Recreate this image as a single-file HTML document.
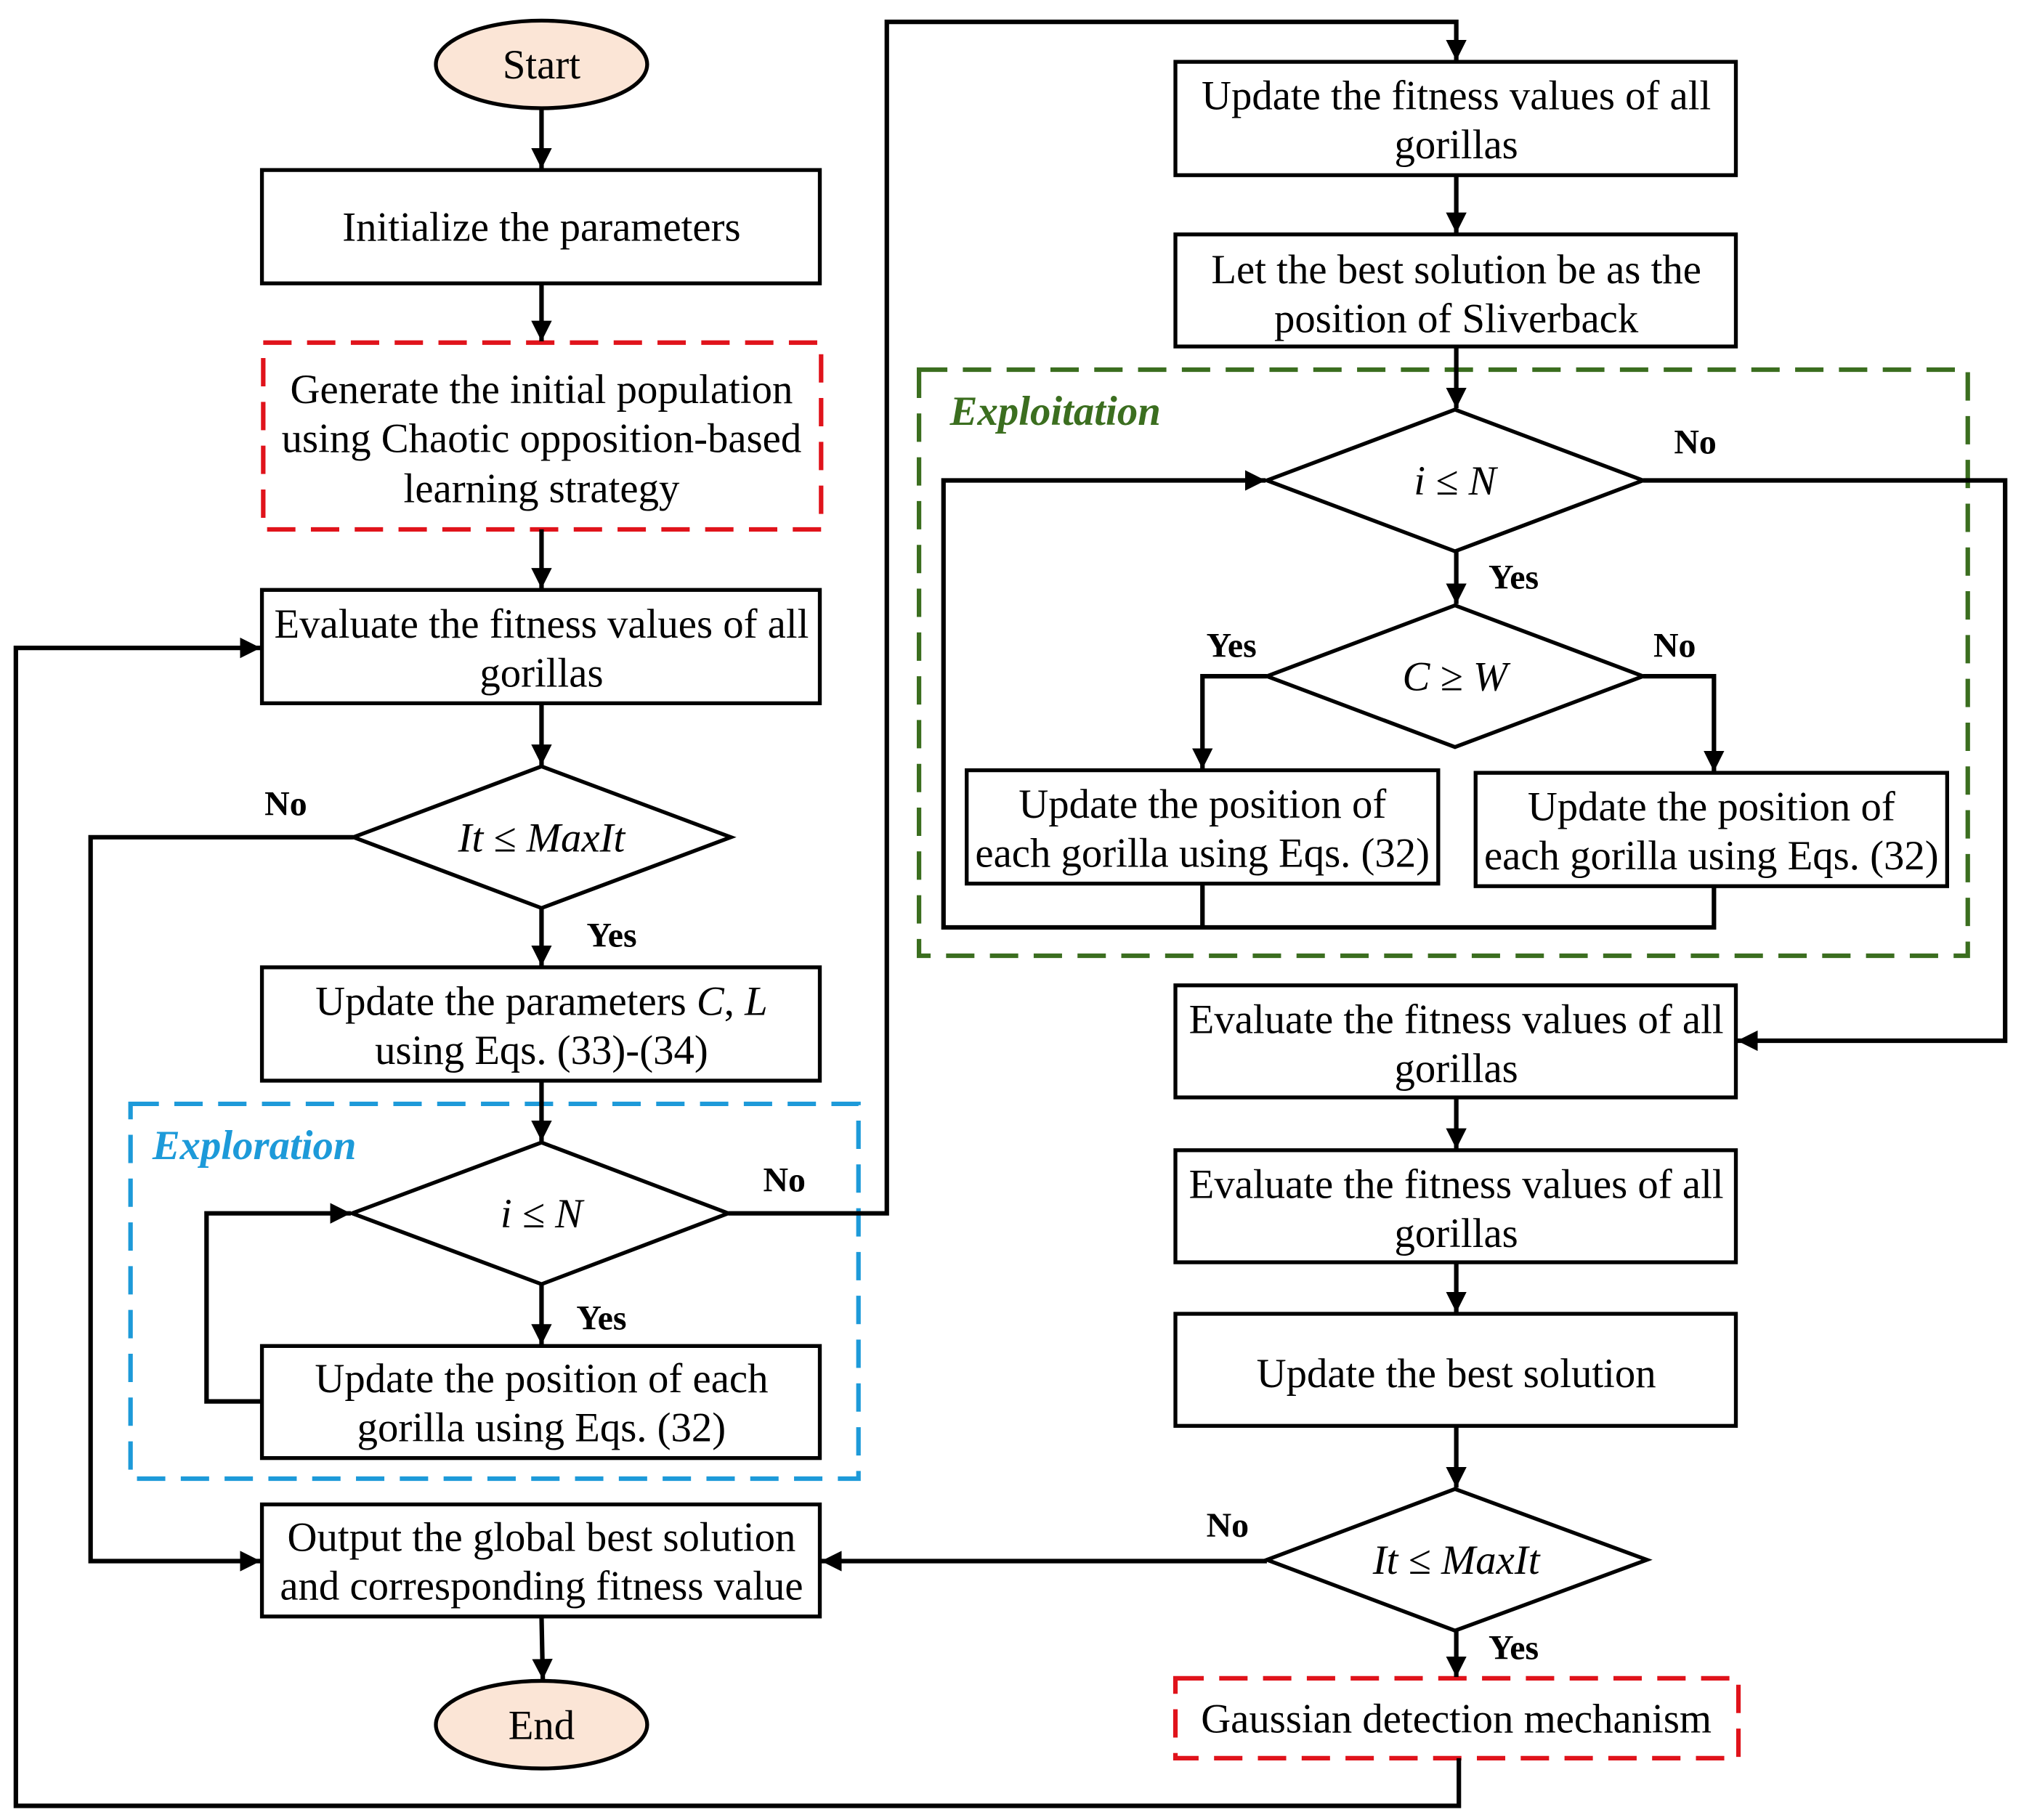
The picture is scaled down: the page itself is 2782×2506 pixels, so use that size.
<!DOCTYPE html>
<html><head><meta charset="utf-8"><style>
html,body{margin:0;padding:0;background:#fff;}
svg{display:block;}
text{font-family:"Liberation Serif",serif;font-size:32px;fill:#000;}
.b{font-weight:bold;font-size:27px;}
</style></head><body>
<svg width="2782" height="2506" viewBox="0 0 1568 1413" xmlns="http://www.w3.org/2000/svg">
<defs>
<marker id="ah" viewBox="0 0 10 10" markerWidth="16" markerHeight="16" refX="10" refY="5" orient="auto" markerUnits="userSpaceOnUse"><path d="M0,0 L10,5 L0,10 z" fill="#000"/></marker></defs>
<g fill="none" stroke="#000" stroke-width="3">
<ellipse cx="420" cy="50" rx="82" ry="34" fill="#fbe5d6"/>
<rect x="203" y="132" width="433" height="88" fill="#fff"/>
<rect x="203" y="458" width="433" height="88" fill="#fff"/>
<polygon points="274,650 420,595 567,650 420,705" fill="#fff"/>
<rect x="203" y="751" width="433" height="88" fill="#fff"/>
<polygon points="273,942 420,887 565,942 420,997" fill="#fff"/>
<rect x="203" y="1045" width="433" height="87" fill="#fff"/>
<rect x="203" y="1168" width="433" height="87" fill="#fff"/>
<ellipse cx="420" cy="1339" rx="82" ry="34" fill="#fbe5d6"/>
<rect x="912" y="48" width="435" height="88"/>
<rect x="912" y="182" width="435" height="87"/>
<polygon points="983,373 1129,318 1275,373 1129,428" fill="#fff"/>
<polygon points="983,525 1129,470 1275,525 1129,580" fill="#fff"/>
<rect x="750" y="598" width="366" height="88"/>
<rect x="1145" y="600" width="366" height="88"/>
<rect x="912" y="765" width="435" height="87"/>
<rect x="912" y="893" width="435" height="87"/>
<rect x="912" y="1020" width="435" height="87"/>
<polygon points="983,1211 1129,1156 1278,1211 1129,1266" fill="#fff"/>
</g>
<g fill="none" stroke-width="3.5" stroke-dasharray="22,12">
<rect x="204" y="266" width="433" height="145" stroke="#e0131b"/>
<rect x="101" y="857" width="565" height="291" stroke="#1d9ad9"/>
<rect x="713" y="287" width="814" height="455" stroke="#3b6e1f"/>
<rect x="912" y="1303" width="437" height="62" stroke="#e0131b"/>
</g>
<g fill="none" stroke="#000" stroke-width="3.5" marker-end="url(#ah)">
<line x1="420" y1="84" x2="420" y2="131"/>
<line x1="420" y1="220" x2="420" y2="265"/>
<line x1="420" y1="411" x2="420" y2="457"/>
<line x1="420" y1="546" x2="420" y2="594"/>
<line x1="420" y1="705" x2="420" y2="750"/>
<line x1="420" y1="839" x2="420" y2="886"/>
<line x1="420" y1="997" x2="420" y2="1044"/>
<polyline points="203,1088 160,1088 160,942 272,942"/>
<polyline points="274,650 70,650 70,1212 202,1212"/>
<line x1="420" y1="1255" x2="421" y2="1304"/>
<polyline points="565,942 688,942 688,17 1130,17 1130,47"/>
<line x1="1130" y1="136" x2="1130" y2="181"/>
<line x1="1130" y1="269" x2="1130" y2="317"/>
<line x1="1130" y1="428" x2="1130" y2="469"/>
<polyline points="983,525 933,525 933,597"/>
<polyline points="1275,525 1330,525 1330,599"/>
<polyline points="933,686 933,720 732,720 732,373 982,373"/>
<polyline points="1330,688 1330,720 933,720" marker-end="none"/>
<polyline points="1275,373 1556,373 1556,808 1348,808"/>
<line x1="1130" y1="852" x2="1130" y2="892"/>
<line x1="1130" y1="980" x2="1130" y2="1019"/>
<line x1="1130" y1="1107" x2="1130" y2="1155"/>
<line x1="983" y1="1212" x2="637" y2="1212"/>
<line x1="1130" y1="1266" x2="1130" y2="1302"/>
<polyline points="1132,1365 1132,1402 12,1402 12,503 202,503"/>
</g>
<g text-anchor="middle">
<text x="420" y="61" font-size="34">Start</text>
<text x="420" y="187">Initialize the parameters</text>
<text x="420" y="313">Generate the initial population</text>
<text x="420" y="351">using Chaotic opposition-based</text>
<text x="420" y="390">learning strategy</text>
<text x="420" y="495">Evaluate the fitness values of all</text>
<text x="420" y="533">gorillas</text>
<text x="420" y="661" font-style="italic">It ≤ MaxIt</text>
<text x="420" y="788">Update the parameters <tspan font-style="italic">C</tspan>, <tspan font-style="italic">L</tspan></text>
<text x="420" y="826">using Eqs. (33)-(34)</text>
<text x="420" y="953" font-style="italic">i ≤ N</text>
<text x="420" y="1081">Update the position of each</text>
<text x="420" y="1119">gorilla using Eqs. (32)</text>
<text x="420" y="1204">Output the global best solution</text>
<text x="420" y="1242">and corresponding fitness value</text>
<text x="420" y="1350" font-size="34">End</text>
<text x="1130" y="85">Update the fitness values of all</text>
<text x="1130" y="123">gorillas</text>
<text x="1130" y="220">Let the best solution be as the</text>
<text x="1130" y="258">position of Sliverback</text>
<text x="1129" y="384" font-style="italic">i ≤ N</text>
<text x="1129" y="536" font-style="italic">C ≥ W</text>
<text x="933" y="635">Update the position of</text>
<text x="933" y="673">each gorilla using Eqs. (32)</text>
<text x="1328" y="637">Update the position of</text>
<text x="1328" y="675">each gorilla using Eqs. (32)</text>
<text x="1130" y="802">Evaluate the fitness values of all</text>
<text x="1130" y="840">gorillas</text>
<text x="1130" y="930">Evaluate the fitness values of all</text>
<text x="1130" y="968">gorillas</text>
<text x="1130" y="1077">Update the best solution</text>
<text x="1130" y="1222" font-style="italic">It ≤ MaxIt</text>
<text x="1130" y="1345">Gaussian detection mechanism</text>
</g>
<text class="b" x="205" y="633">No</text>
<text class="b" x="455" y="735">Yes</text>
<text class="b" x="592" y="925">No</text>
<text class="b" x="447" y="1032">Yes</text>
<text class="b" x="1299" y="352">No</text>
<text class="b" x="1155" y="457">Yes</text>
<text class="b" x="936" y="510">Yes</text>
<text class="b" x="1283" y="510">No</text>
<text class="b" x="936" y="1193">No</text>
<text class="b" x="1155" y="1288">Yes</text>
<text x="118" y="900" font-size="30" font-style="italic" font-weight="bold" style="fill:#1d9ad9">Exploration</text>
<text x="737" y="330" font-size="30" font-style="italic" font-weight="bold" style="fill:#3b6e1f">Exploitation</text>
</svg>
</body></html>
